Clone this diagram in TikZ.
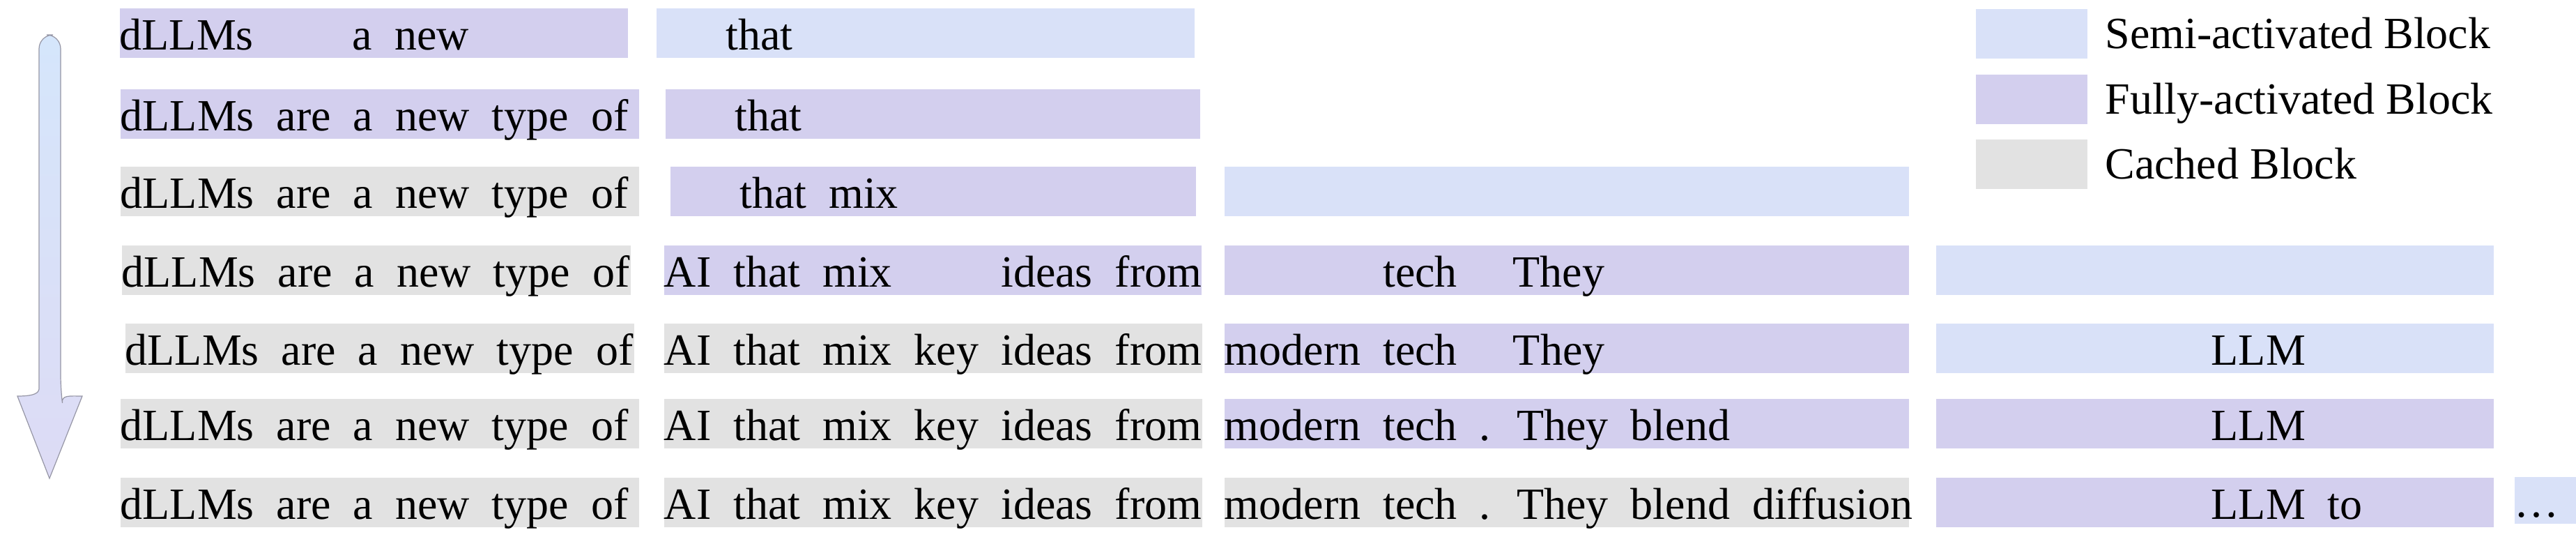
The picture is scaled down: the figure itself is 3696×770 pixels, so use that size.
\documentclass[tikz,border=0pt]{standalone}
\usepackage{fontspec}
\setmainfont{Liberation Serif}
\usepackage{xcolor}
\usepackage{tikz}
\usetikzlibrary{positioning}
\definecolor{semi}{RGB}{217,225,248}
\definecolor{full}{RGB}{211,207,238}
\definecolor{cache}{RGB}{226,226,226}
\definecolor{arrtop}{RGB}{213,230,251}
\definecolor{arrbot}{RGB}{221,219,245}
\definecolor{arrline}{RGB}{150,150,165}
\newcommand{\blkfont}{\rmfamily\fontsize{16}{19}\selectfont\spaceskip .5em\relax}
\newcommand{\legfont}{\rmfamily\fontsize{16}{19}\selectfont}
\newcommand{\blktxt}[2]{\makebox[#1][l]{#2}}
\tikzset{txt/.style={font=\blkfont}}
\tikzset{blk/.style={txt, anchor=north west, inner sep=0pt, minimum height=17.75pt, text height=13.5pt, text depth=1.5pt}}

\begin{document}
\begin{tikzpicture}[x=.25pt, y=-.25pt]
\useasboundingbox (0,0) rectangle (3696,770);
\shade[top color=arrtop, bottom color=arrbot, draw=arrline, line width=.3pt]
  (56,558) [rounded corners=5pt] -- (56,50) -- (87,50) -- (87,558) [sharp corners]
  .. controls (88,566) and (100,568) .. (118,568) -- (71,686) -- (25,568) .. controls (42,568) and (55,566) .. (56,558) -- cycle;
\node[blk, fill=full] (r1b1) at (171,11) {\blktxt{182.25pt}{dLLMs \phantom{are} a new}};
\node[blk, fill=semi] (r1b2) at (941,11) {\blktxt{193pt}{\phantom{AI} that}};
\node[blk, fill=full] (r2b1) at (172,127) {\blktxt{186pt}{dLLMs are a new type of}};
\node[blk, fill=full] (r2b2) at (954,127) {\blktxt{191.75pt}{\phantom{AI} that}};
\node[blk, fill=cache] (r3b1) at (172,238) {\blktxt{186pt}{dLLMs are a new type of}};
\node[blk, fill=full] (r3b2) at (961,238) {\blktxt{188.5pt}{\phantom{AI} that mix}};
\node[blk, fill=semi] (r3b3) at (1756,238) {\blktxt{245.5pt}{}};
\node[blk, fill=cache] (r4b1) at (174,351) {\blktxt{182.5pt}{dLLMs are a new type of}};
\node[blk, fill=full] (r4b2) at (952,351) {\blktxt{192.75pt}{AI that mix \phantom{key} ideas from}};
\node[blk, fill=full] (r4b3) at (1756,351) {\blktxt{245.5pt}{\phantom{modern} tech \phantom{.} They}};
\node[blk, fill=semi] (r4b4) at (2777,351) {\blktxt{200pt}{}};
\node[blk, fill=cache] (r5b1) at (179,463) {\blktxt{182.5pt}{dLLMs are a new type of}};
\node[blk, fill=cache] (r5b2) at (952,463) {\blktxt{193pt}{AI that mix key ideas from}};
\node[blk, fill=full] (r5b3) at (1756,463) {\blktxt{245.5pt}{modern tech \phantom{.} They}};
\node[blk, fill=semi] (r5b4) at (2777,463) {\blktxt{200pt}{\hspace*{98.75pt}LLM}};
\node[blk, fill=cache] (r6b1) at (172,571) {\blktxt{186pt}{dLLMs are a new type of}};
\node[blk, fill=cache] (r6b2) at (952,571) {\blktxt{193pt}{AI that mix key ideas from}};
\node[blk, fill=full] (r6b3) at (1756,571) {\blktxt{245.5pt}{modern tech . They blend}};
\node[blk, fill=full] (r6b4) at (2777,571) {\blktxt{200pt}{\hspace*{98.75pt}LLM}};
\node[blk, fill=cache] (r7b1) at (172,684) {\blktxt{186pt}{dLLMs are a new type of}};
\node[blk, fill=cache] (r7b2) at (952,684) {\blktxt{193pt}{AI that mix key ideas from}};
\node[blk, fill=cache] (r7b3) at (1756,684) {\blktxt{245.5pt}{modern tech . They blend diffusion}};
\node[blk, fill=full] (r7b4) at (2777,684) {\blktxt{200pt}{\hspace*{98.75pt}LLM to}};
\node[blk, fill=semi, minimum height=16.75pt] (r7b5) at (3607,683) {\blktxt{22.25pt}{\ldots}};
\foreach \yy/\col/\txt [count=\i] in {12/semi/Semi-activated Block, 106/full/Fully-activated Block, 199/cache/Cached Block}{
  \node[blk, fill=\col] (key\i) at (2834,\yy) {\blktxt{40pt}{}};
  \node[font=\legfont, right=6pt of key\i, inner sep=0pt, text height=12pt, text depth=1.5pt] (lab\i) {\txt};
}
\end{tikzpicture}
\end{document}
